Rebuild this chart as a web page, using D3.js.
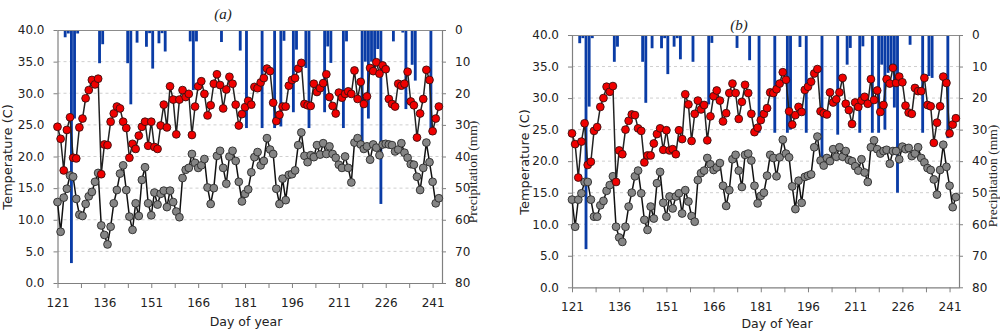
<!DOCTYPE html>
<html><head><meta charset="utf-8">
<script src="https://cdnjs.cloudflare.com/ajax/libs/d3/7.8.5/d3.min.js"></script>
<style>body{margin:0;background:#fff}svg{display:block}</style>
</head><body>
<svg id="c" width="1000" height="332"></svg>
<script>
const startDay = 121;
const dayTicks = [121,128.5,136,143.5,151,158.5,166,173.5,181,188.5,196,203.5,211,218.5,226,233.5,241];
const dayLabels = [121,136,151,166,181,196,211,226,241];
const tempTicks = [0,5,10,15,20,25,30,35,40];
const precipTicks = [0,10,20,30,40,50,60,70,80];

const maxTempA = [24.7,22.8,17.8,24.2,26.2,19.8,19.7,24.6,26.0,29.2,
30.5,32.1,31.4,32.3,17.2,21.9,21.8,25.5,26.8,27.9,
27.6,25.5,24.5,19.8,22.0,21.2,23.3,24.7,25.5,21.7,
25.5,21.5,21.2,24.9,28.2,24.6,31.1,29.0,23.5,29.0,
30.5,29.4,29.9,23.4,27.9,31.1,31.9,29.9,26.5,28.1,
31.5,33.0,31.3,27.6,30.6,32.6,31.5,28.2,24.9,26.7,
27.8,28.8,28.2,31.0,30.8,31.7,32.4,33.9,33.5,28.5,
25.6,26.6,27.9,27.9,31.2,32.1,32.4,33.9,34.8,28.3,
28.1,28.0,31.5,30.2,30.8,31.6,33.0,29.4,28.0,26.8,
30.1,29.3,29.9,30.3,29.9,33.6,29.1,31.8,28.3,29.5,
34.0,33.5,34.9,33.1,34.4,33.8,29.1,28.3,27.9,31.5,
31.2,31.5,33.4,28.7,28.1,23.0,26.8,29.1,33.7,32.1,
24.0,26.0,27.9];
const minTempA = [12.8,8.1,13.5,14.9,17.0,16.8,13.3,10.8,10.6,12.5,
13.7,14.4,16.0,17.4,9.1,7.6,6.1,8.9,12.6,14.7,
17.3,18.6,14.7,10.5,8.4,12.6,10.6,16.3,18.3,12.6,
10.7,14.3,12.4,14.1,14.6,12.0,14.6,12.8,11.3,10.4,
16.6,17.9,18.2,20.4,19.0,18.2,18.6,19.6,15.1,12.5,
15.0,20.1,20.9,18.2,15.7,20.0,20.9,19.3,16.0,12.9,
14.1,14.8,17.5,19.9,20.7,18.6,19.3,22.9,21.1,20.4,
14.9,12.5,16.5,13.1,17.1,17.2,17.8,21.8,23.8,20.1,
19.1,20.2,19.9,21.8,20.3,22.1,20.4,21.6,20.4,19.8,
18.7,18.2,20.0,18.2,15.9,22.2,22.9,21.9,21.2,21.6,
19.5,21.9,21.4,20.2,21.9,22.0,21.9,21.8,20.8,21.1,
22.1,20.6,19.8,18.8,18.7,16.8,14.7,18.2,22.2,19.1,
16.0,12.6,13.4];
const rainDaysA = [123,124,125,126,127,134,135,143,144,146,149,150,151,153,154,155,163,164,165,173,179,181,186,190,192,193,196,197,200,201,206,207,208,212,213,218,219,220,221,222,223,224,228,231,232,234,235,240];
const rainA = [2.3,1.1,73.7,28,1.1,10.5,4.5,10.5,23.5,4.0,5.3,1.0,12.2,4.2,1.0,6.8,3.6,19,3.6,3.8,6.5,31,31,31,30.5,3.4,26,6.2,12,31,26,5.2,10.4,31,3.6,38,10,28,10,12,6,55,3.6,0.8,25,11,16,33];

const maxTempB = [24.4,22.7,17.4,23.1,26.0,19.4,19.9,24.8,25.4,28.6,
30.0,31.8,31.0,31.9,16.7,21.7,21.1,25.0,26.4,27.4,
27.3,25.2,24.8,19.8,20.9,20.9,22.8,24.3,25.2,21.8,
24.9,21.7,21.9,21.1,24.9,23.5,30.6,29.0,23.2,27.5,
29.6,28.2,28.9,23.3,27.1,30.3,31.2,29.6,26.3,27.6,
30.8,32.3,30.8,26.7,29.4,32.1,30.8,27.5,24.6,25.3,
26.5,27.5,28.4,30.9,30.8,31.4,32.3,34.1,32.9,27.9,
25.8,27.3,28.6,27.8,31.3,31.8,32.6,33.9,34.6,27.9,
27.6,27.4,30.9,29.3,29.8,30.9,33.2,29.1,28.1,25.9,
29.3,28.6,29.6,30.2,29.1,33.0,29.7,31.2,27.8,28.9,
33.0,32.3,34.8,32.4,33.4,32.5,28.8,27.7,27.5,31.6,
31.1,31.1,33.2,28.9,28.7,22.9,26.1,28.7,33.4,32.4,
24.4,25.8,26.8];
const minTempB = [13.9,9.6,13.9,14.9,16.7,16.7,13.9,11.2,11.2,13.0,
13.7,15.3,16.2,17.6,9.6,7.9,7.2,9.6,12.8,15.0,
17.6,18.5,14.9,10.7,9.1,12.8,10.9,16.5,18.3,13.4,
11.2,14.4,12.5,14.4,14.9,11.7,15.4,13.6,11.3,10.4,
17.0,18.1,18.5,20.5,19.5,18.6,19.0,19.7,16.1,12.9,
15.4,20.3,21.0,18.5,15.9,21.0,21.2,20.1,16.1,13.3,
14.5,15.0,17.7,21.0,20.5,17.6,20.6,23.4,21.2,20.6,
16.0,12.4,16.9,13.4,17.5,17.7,17.9,22.2,23.9,20.1,
19.3,20.5,20.0,21.9,20.7,22.2,20.7,21.6,20.2,20.0,
19.2,18.5,20.3,18.2,16.7,22.2,23.3,21.9,21.2,21.6,
21.8,19.6,21.6,21.6,20.3,22.3,21.9,22.1,20.8,21.2,
22.2,20.5,19.8,18.9,18.6,17.1,14.7,18.6,22.6,19.1,
16.1,12.7,14.3];
const rainDaysB = [123,124,125,126,127,134,135,143,144,146,149,150,151,153,154,155,159,164,165,173,177,180,185,189,190,193,195,200,205,208,209,212,213,216,218,219,220,221,222,223,224,228,232,234,235,240];
const rainB = [2.6,1.0,67.9,22.7,1.0,8.5,3.7,8.5,21.5,4.2,4.2,1.0,12.4,3.7,1.0,7.7,8.5,22,2.5,4.1,8.0,31,31,31,30,3.8,31,42,31.6,9.4,4.1,31,3.6,31,31,9.4,30,12,10,23,50,3.1,31,13,13.6,32.7];

const svg = d3.select("#c");
const SANS = "'DejaVu Sans', Verdana, sans-serif";
const SERIF = "'Liberation Serif', 'DejaVu Serif', serif";

function panel(o) {
  const g = svg.append("g");
  const x = d3.scaleLinear().domain([121, 244]).range([o.x0, o.x1]);
  const yT = d3.scaleLinear().domain([0, 40]).range([o.yb, o.yt]);
  const yP = d3.scaleLinear().domain([0, 80]).range([o.yt, o.yb]);
  const days = o.maxT.map((v, i) => startDay + i);

  g.selectAll(".grid").data(tempTicks.filter(t => t > 0 && t < 40)).join("line")
    .attr("x1", o.x0).attr("x2", o.x1).attr("y1", d => yT(d)).attr("y2", d => yT(d))
    .attr("stroke", "#cfcfcf").attr("stroke-width", 1).attr("stroke-dasharray", "3,3");

  const step = x(startDay + 1) - x(startDay);
  g.selectAll(".bar").data(o.rainDays.map((d, i) => ({d, v: o.rain[i]}))).join("rect")
    .attr("x", d => x(d.d)).attr("width", step - 0.3)
    .attr("y", o.yt).attr("height", d => yP(d.v) - o.yt)
    .attr("fill", "#0a3ca6");

  g.append("line").attr("x1", o.x0).attr("x2", o.x1).attr("y1", o.yt + 0.5).attr("y2", o.yt + 0.5)
    .attr("stroke", "#8c8c8c");

  const ax = (sel) => {
    sel.selectAll("path.domain").attr("stroke", "#808080").attr("stroke-width", 1.2);
    sel.selectAll(".tick line").attr("stroke", "#808080");
    sel.selectAll("text").attr("font-family", SANS).attr("font-size", 12).attr("fill", "#222");
  };
  g.append("g").attr("transform", `translate(${o.x0},0)`)
    .call(d3.axisLeft(yT).tickValues(tempTicks).tickFormat(d3.format(".1f")).tickSize(4).tickSizeOuter(0).tickPadding(9))
    .call(ax);
  g.append("g").attr("transform", `translate(${o.x1},0)`)
    .call(d3.axisRight(yP).tickValues(precipTicks).tickFormat(d3.format("d")).tickSize(4).tickSizeOuter(0).tickPadding(9))
    .call(ax);
  g.append("g").attr("transform", `translate(0,${o.yb})`)
    .call(d3.axisBottom(x).tickValues(dayTicks).tickFormat(d => dayLabels.includes(d) ? d : "").tickSize(5).tickSizeOuter(0).tickPadding(10))
    .call(ax);

  const line = (arr) => d3.line().x((v, i) => x(days[i])).y(v => yT(v))(arr);
  g.append("path").attr("d", line(o.minT)).attr("fill", "none").attr("stroke", "#111").attr("stroke-width", 1.5);
  g.selectAll(".mn").data(o.minT).join("circle")
    .attr("cx", (v, i) => x(days[i])).attr("cy", v => yT(v)).attr("r", 3.9)
    .attr("fill", "#858585").attr("stroke", "#2a2a2a").attr("stroke-width", 0.9);
  g.append("path").attr("d", line(o.maxT)).attr("fill", "none").attr("stroke", "#222").attr("stroke-width", 1.5);
  g.selectAll(".mx").data(o.maxT).join("circle")
    .attr("cx", (v, i) => x(days[i])).attr("cy", v => yT(v)).attr("r", 3.9)
    .attr("fill", "#f00000").attr("stroke", "#3a1010").attr("stroke-width", 0.9);

  g.append("text").attr("transform", `translate(${o.tlx},${o.tly}) rotate(-90)`)
    .attr("text-anchor", "middle").attr("font-family", SANS).attr("font-size", 13).attr("fill", "#222")
    .text("Temperature (C)");
  g.append("text").attr("transform", `translate(${o.plx},${o.ply}) rotate(-90)`)
    .attr("text-anchor", "middle").attr("font-family", SERIF).attr("font-size", 13.5).attr("fill", "#222")
    .text("Precipitation (mm)");
  g.append("text").attr("x", o.xlx).attr("y", o.xly).attr("text-anchor", "middle")
    .attr("font-family", SANS).attr("font-size", 12.5).attr("fill", "#222").text(o.xlabel);
  g.append("text").attr("x", o.ttx).attr("y", o.tty).attr("text-anchor", "middle")
    .attr("font-family", SERIF).attr("font-style", "italic").attr("font-size", 15).attr("fill", "#222").text(o.title);
}

panel({x0: 57.5, x1: 442, yt: 30, yb: 283, maxT: maxTempA, minT: minTempA, rainDays: rainDaysA, rain: rainA,
  tlx: 12, tly: 157, plx: 477, ply: 172, xlx: 246, xly: 326, xlabel: "Day of year", ttx: 223, tty: 19, title: "(a)"});
panel({x0: 572, x1: 959, yt: 35, yb: 287.3, maxT: maxTempB, minT: minTempB, rainDays: rainDaysB, rain: rainB,
  tlx: 529, tly: 162, plx: 997, ply: 176, xlx: 777, xly: 328, xlabel: "Day of Year", ttx: 739, tty: 30, title: "(b)"});
</script>
</body></html>
